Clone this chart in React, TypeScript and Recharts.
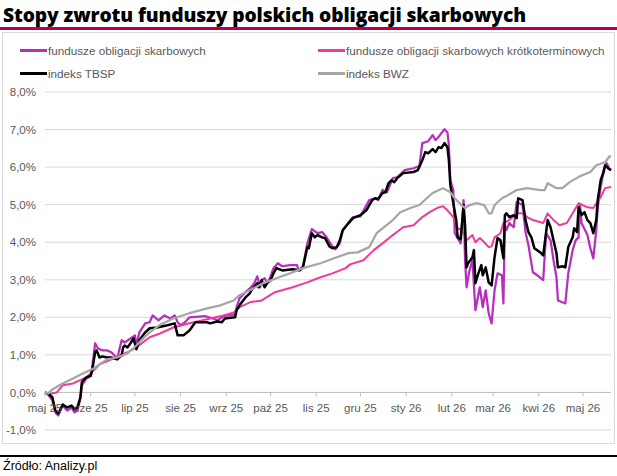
import { LineChart, Line, XAxis, YAxis, CartesianGrid, ReferenceLine } from "recharts"

// [days since 1 May 2025, return %]
const skarbowe: [number, number][] = [
  [0, 0], [2, -0.05], [5, -0.21], [7, -0.53], [9, -0.61], [12, -0.35], [15, -0.48], [18, -0.4], [20, -0.53], [22, -0.48],
  [24, -0.16], [25, 0.19], [28, 0.37], [31, 0.43], [32, 0.64], [34, 1.31], [36, 1.17], [39, 1.12], [42, 1.12], [45, 1.07],
  [49, 0.91], [52, 1.39], [54, 1.33], [58, 1.44], [61, 1.52], [62, 1.25], [64, 1.6], [68, 1.84], [71, 1.87], [73, 2.05],
  [77, 1.92], [81, 2.05], [85, 1.97], [88, 2.05], [90, 1.87], [92, 1.79], [95, 1.87], [98, 2.0], [109, 2.03], [114, 1.97],
  [117, 1.92], [121, 2.03], [129, 2.08], [130, 2.27], [132, 2.51], [136, 2.67], [139, 2.77], [142, 2.91], [144, 3.09],
  [146, 2.8], [147, 2.99], [149, 3.04], [151, 2.91], [153, 3.09], [155, 3.31], [158, 3.44], [161, 3.36], [166, 3.39],
  [171, 3.39], [172, 3.25], [175, 3.36], [178, 3.97], [181, 4.35], [185, 4.24], [188, 4.27], [191, 4.13], [195, 3.89],
  [197, 3.81], [200, 3.97], [202, 4.32], [206, 4.53], [209, 4.67], [214, 4.69], [220, 5.12], [224, 5.17], [226, 5.12],
  [229, 5.39], [232, 5.33], [236, 5.71], [239, 5.73], [244, 5.92], [250, 5.97], [254, 6.03], [256, 6.64], [260, 6.69],
  [263, 6.85], [265, 6.72], [267, 6.8], [269, 6.91], [271, 7.01], [273, 6.93], [274, 6.59], [275, 5.65], [277, 5.39],
  [278, 4.24], [280, 4.11], [282, 3.97], [284, 5.12], [285, 3.52], [286, 2.8], [288, 3.25], [290, 3.52], [292, 2.19],
  [295, 2.8], [297, 2.27], [299, 2.72], [301, 2.11], [303, 1.84], [305, 2.72], [307, 3.17], [310, 3.12], [311, 2.37],
  [312, 4.45], [313, 4.32], [315, 4.51], [318, 4.4], [320, 5.07], [324, 4.99], [326, 4.27], [328, 3.92], [331, 3.2],
  [334, 3.12], [338, 2.99], [340, 4.24], [343, 4.05], [345, 3.52], [347, 3.07], [348, 2.45], [351, 2.4], [353, 2.37],
  [355, 3.17], [358, 3.79], [360, 4.05], [362, 4.13], [363, 4.99], [364, 4.51], [368, 4.19], [370, 3.84], [372, 3.57],
  [374, 4.32], [375, 4.93], [377, 5.47], [379, 5.92], [381, 6.11], [383, 5.95], [384, 5.92],
]

const krotkoterminowe: [number, number][] = [
  [0, 0], [2, -0.05], [8, 0], [12, 0.19], [19, 0.24], [28, 0.4], [33, 0.59], [37, 0.75], [42, 0.83], [51, 0.99],
  [56, 1.07], [62, 1.2], [71, 1.47], [78, 1.57], [87, 1.73], [98, 1.84], [110, 1.95], [121, 2.05], [128, 2.13],
  [132, 2.27], [139, 2.4], [147, 2.45], [156, 2.67], [168, 2.8], [178, 2.93], [185, 3.04], [195, 3.17], [204, 3.31],
  [207, 3.41], [216, 3.52], [223, 3.79], [229, 3.97], [236, 4.19], [243, 4.4], [250, 4.45], [256, 4.67], [261, 4.8],
  [266, 4.91], [270, 4.96], [273, 4.85], [277, 4.67], [280, 4.37], [283, 4.32], [286, 4.05], [290, 4.19], [292, 4.0],
  [295, 4.11], [298, 4.0], [301, 3.87], [303, 3.89], [305, 4.13], [309, 4.24], [311, 4.51], [315, 4.59], [320, 4.77],
  [324, 4.77], [327, 4.67], [331, 4.59], [338, 4.51], [341, 4.77], [345, 4.59], [349, 4.45], [354, 4.51], [358, 4.77],
  [362, 5.04], [368, 4.93], [372, 4.91], [377, 5.2], [380, 5.44], [384, 5.47],
]

const tbsp: [number, number][] = [
  [0, 0], [2, -0.03], [5, -0.13], [7, -0.48], [9, -0.56], [12, -0.32], [15, -0.4], [18, -0.35], [20, -0.45], [22, -0.4],
  [24, -0.13], [25, 0.27], [26, 0.32], [28, 0.4], [31, 0.45], [32, 0.59], [34, 1.07], [35, 1.12], [37, 0.93], [39, 0.96],
  [42, 0.93], [45, 0.93], [49, 0.88], [52, 0.99], [53, 1.2], [54, 1.25], [56, 1.2], [58, 1.31], [60, 1.44], [62, 1.15],
  [64, 1.39], [68, 1.6], [71, 1.71], [76, 1.73], [83, 1.79], [88, 1.84], [90, 1.52], [94, 1.52], [98, 1.65], [102, 1.87],
  [110, 1.87], [112, 1.84], [117, 1.89], [120, 1.87], [122, 1.97], [129, 2.0], [130, 2.19], [132, 2.32], [136, 2.53],
  [139, 2.64], [140, 2.72], [144, 2.91], [145, 2.8], [147, 2.99], [149, 2.8], [151, 2.93], [153, 2.99], [155, 3.17],
  [157, 3.31], [161, 3.25], [168, 3.28], [173, 3.25], [175, 3.33], [178, 3.87], [179, 3.84], [181, 4.24], [183, 4.13],
  [185, 4.19], [188, 4.13], [190, 4.11], [193, 3.89], [195, 3.84], [198, 3.87], [200, 4.05], [202, 4.32], [206, 4.51],
  [209, 4.64], [214, 4.72], [218, 4.85], [222, 5.12], [224, 5.17], [226, 5.15], [229, 5.31], [231, 5.33], [233, 5.57],
  [235, 5.65], [237, 5.6], [239, 5.71], [243, 5.84], [250, 5.87], [253, 5.92], [256, 6.19], [258, 6.4], [260, 6.37],
  [263, 6.48], [265, 6.4], [267, 6.53], [269, 6.51], [271, 6.64], [273, 6.53], [274, 6.19], [275, 5.52], [277, 5.04],
  [279, 4.59], [280, 4.13], [282, 4.08], [284, 4.99], [285, 4.45], [286, 3.33], [287, 3.44], [290, 3.6], [291, 3.79],
  [292, 2.91], [294, 3.17], [296, 3.39], [297, 3.12], [299, 3.33], [301, 2.93], [303, 2.85], [305, 3.6], [307, 4.11],
  [309, 4.05], [311, 3.57], [312, 4.72], [313, 4.77], [315, 4.67], [318, 4.72], [320, 4.64], [321, 5.17], [324, 5.12],
  [326, 4.59], [328, 4.27], [330, 4.13], [332, 3.84], [336, 3.73], [338, 3.65], [341, 4.59], [343, 4.4], [345, 4.05],
  [347, 3.71], [348, 3.33], [351, 3.36], [353, 3.33], [355, 3.87], [358, 4.13], [359, 4.37], [361, 4.27], [362, 4.93],
  [364, 4.72], [366, 4.8], [368, 4.59], [370, 4.51], [372, 4.24], [374, 4.59], [375, 5.12], [377, 5.65], [379, 5.87],
  [380, 6.05], [382, 5.97], [384, 5.92],
]

const bwz: [number, number][] = [
  [0, 0], [2, -0.03], [5, 0.08], [12, 0.24], [19, 0.37], [26, 0.51], [33, 0.64], [39, 0.8], [42, 0.88], [49, 0.93],
  [56, 1.04], [62, 1.25], [66, 1.42], [71, 1.6], [78, 1.8], [87, 1.97], [98, 2.11], [110, 2.24], [119, 2.32], [128, 2.45],
  [132, 2.59], [139, 2.72], [148, 2.91], [157, 3.04], [166, 3.17], [175, 3.31], [187, 3.44], [198, 3.6], [206, 3.71],
  [212, 3.73], [220, 3.87], [225, 4.24], [229, 4.37], [236, 4.59], [241, 4.8], [248, 4.91], [254, 4.99], [259, 5.17],
  [263, 5.31], [270, 5.44], [275, 5.33], [278, 5.17], [282, 5.01], [285, 4.91], [288, 4.99], [293, 5.04], [298, 4.99],
  [301, 4.77], [303, 4.77], [305, 4.99], [310, 5.17], [314, 5.25], [320, 5.39], [327, 5.44], [336, 5.39], [339, 5.39],
  [341, 5.57], [347, 5.44], [351, 5.44], [356, 5.6], [363, 5.76], [370, 5.87], [374, 6.05], [380, 6.13], [383, 6.29],
  [384, 6.27],
]

const monthTicks = [0, 31, 61, 92, 123, 153, 184, 214, 245, 276, 304, 335, 365]
const monthLabels = ["maj 25", "cze 25", "lip 25", "sie 25", "wrz 25", "paź 25", "lis 25", "gru 25", "sty 26", "lut 26", "mar 26", "kwi 26", "maj 26"]
const yTicks = [-1, 0, 1, 2, 3, 4, 5, 6, 7, 8]

const series = [
  { name: "fundusze obligacji skarbowych", data: skarbowe, color: "#b72fbd", width: 2.25 },
  { name: "fundusze obligacji skarbowych krótkoterminowych", data: krotkoterminowe, color: "#ef3c9c", width: 2 },
  { name: "indeks TBSP", data: tbsp, color: "#000000", width: 2.5 },
  { name: "indeks BWZ", data: bwz, color: "#a6a6a6", width: 2.25 },
]

const W = 617
const H = 476
const PLOT_TOP = 92
const PLOT_BOTTOM = 430
const PLOT_LEFT = 45
const PLOT_RIGHT = 611
const Y_MIN = -1
const Y_MAX = 8
const zeroOffset = ((PLOT_BOTTOM - PLOT_TOP) * (0 - Y_MIN)) / (Y_MAX - Y_MIN)

const fmtPct = (v: number) => v.toFixed(1).replace(".", ",") + "%"

function MonthTick(props: any) {
  const { x, y, index } = props
  const y0 = y - zeroOffset
  return (
    <g>
      <line x1={x} x2={x} y1={y0} y2={y0 + 4} stroke="#bfbfbf" strokeWidth={1} />
      <text x={x} y={y0 + 20} textAnchor="middle" fontSize={11.5} fill="#595959" fontFamily="'Liberation Sans', Arial, sans-serif">
        {monthLabels[index]}
      </text>
    </g>
  )
}

export default function App() {
  return (
    <div style={{ position: "absolute", left: 0, top: 0, width: W, height: H, background: "#fff", fontFamily: "'Liberation Sans', Arial, sans-serif" }}>
      <div style={{ position: "absolute", left: 3, top: 1, fontFamily: "'Open Sans', sans-serif", fontWeight: 800, fontSize: 19.2, color: "#000", whiteSpace: "nowrap", letterSpacing: -0.1 }}>
        Stopy zwrotu funduszy polskich obligacji skarbowych
      </div>
      <div style={{ position: "absolute", left: 0, top: 27, width: W, height: 3, background: "#b8004f" }} />
      <div style={{ position: "absolute", left: 2, top: 32, width: 611, height: 410, border: "1px solid #d9d9d9" }} />

      {series.map((s, i) => (
        <div
          key={s.name}
          style={{ position: "absolute", left: i % 2 === 0 ? 20 : 318, top: i < 2 ? 44 : 67, display: "flex", alignItems: "center", whiteSpace: "nowrap", fontSize: 11.7, color: "#595959" }}
        >
          <span style={{ display: "inline-block", width: 27, height: 3, background: s.color, marginRight: 1 }} />
          <span>{s.name}</span>
        </div>
      ))}

      <div style={{ position: "absolute", left: 0, top: 455, width: W, height: 1.5, background: "#000" }} />
      <div style={{ position: "absolute", left: 3, top: 459, fontSize: 12.5, color: "#000", whiteSpace: "nowrap" }}>Źródło: Analizy.pl</div>

      <div style={{ position: "absolute", left: 0, top: 0 }}>
        <LineChart width={W} height={H} margin={{ top: PLOT_TOP, right: W - PLOT_RIGHT, bottom: H - PLOT_BOTTOM - 10, left: 0 }}>
          <CartesianGrid horizontal vertical={false} stroke="#d9d9d9" />
          <XAxis
            type="number"
            dataKey="d"
            domain={[0, 384]}
            ticks={monthTicks}
            interval={0}
            height={10}
            axisLine={false}
            tickLine={false}
            tickSize={0}
            tickMargin={0}
            tick={<MonthTick />}
            allowDuplicatedCategory={false}
          />
          <YAxis
            type="number"
            domain={[Y_MIN, Y_MAX]}
            ticks={yTicks}
            interval={0}
            width={PLOT_LEFT}
            axisLine={false}
            tickLine={false}
            tickFormatter={fmtPct}
            tick={{ fontSize: 11.5, fill: "#595959" }}
            tickMargin={3}
          />
          <ReferenceLine y={0} stroke="#bfbfbf" strokeWidth={1} />
          {series.map((s) => (
            <Line
              key={s.name}
              data={s.data.map(([d, v]) => ({ d, v }))}
              dataKey="v"
              type="linear"
              stroke={s.color}
              strokeWidth={s.width}
              dot={false}
              activeDot={false}
              isAnimationActive={false}
              strokeLinejoin="round"
            />
          ))}
        </LineChart>
      </div>
    </div>
  )
}
